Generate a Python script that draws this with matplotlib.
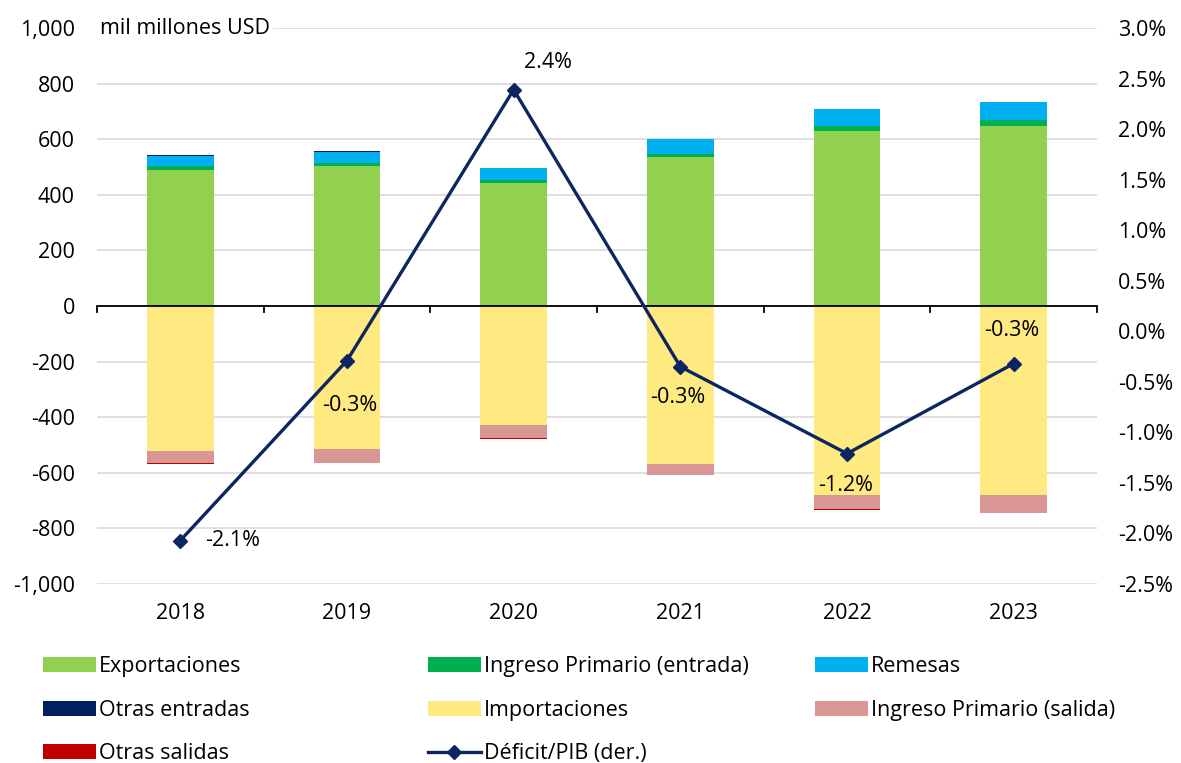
import matplotlib.pyplot as plt
import numpy as np
from matplotlib.lines import Line2D
from matplotlib.patches import Patch
from matplotlib.ticker import FuncFormatter

plt.rcParams['font.family'] = ['Open Sans', 'DejaVu Sans']
fs = 15.5
plt.rcParams['font.size'] = fs

years = ['2018', '2019', '2020', '2021', '2022', '2023']

exportaciones = [490, 504, 444, 536, 628, 648]
ingreso_ent = [14, 12, 9, 9, 20, 21]
remesas = [37, 39, 42, 55, 60, 64]
otras_ent = [1.5, 1.5, 1.5, 1.5, 1.5, 1.5]

importaciones = [-522, -514, -429, -567, -679, -679]
ingreso_sal = [-44, -50, -47, -41, -53, -64]
otras_sal = [-1.5, -1.5, -1, -1.5, -1.5, -1.5]

deficit = [-2.07, -0.29, 2.39, -0.35, -1.21, -0.32]
deficit_labels = ['-2.1%', '-0.3%', '2.4%', '-0.3%', '-1.2%', '-0.3%']

c_exp = '#92d050'
c_ing_ent = '#00b050'
c_rem = '#00b0f0'
c_otr_ent = '#002060'
c_imp = '#ffe981'
c_ing_sal = '#da9694'
c_otr_sal = '#c00000'
c_line = '#0d2560'

fig = plt.figure(figsize=(11.81, 7.63), dpi=100)
ax = fig.add_axes([97 / 1181, 1 - 584 / 763, 1000 / 1181, 556 / 763])

x = np.arange(len(years))
w = 0.4

# positive stack
bottom = np.zeros(len(years))
for vals, col in [(exportaciones, c_exp), (ingreso_ent, c_ing_ent),
                  (remesas, c_rem), (otras_ent, c_otr_ent)]:
    ax.bar(x, vals, w, bottom=bottom, color=col, zorder=2)
    bottom += np.array(vals)

# negative stack
bottom = np.zeros(len(years))
for vals, col in [(importaciones, c_imp), (ingreso_sal, c_ing_sal),
                  (otras_sal, c_otr_sal)]:
    ax.bar(x, vals, w, bottom=bottom, color=col, zorder=2)
    bottom += np.array(vals)

ax.set_xlim(-0.5, len(years) - 0.5)
ax.set_ylim(-1000, 1000)
ax.set_yticks(range(-1000, 1001, 200))
ax.yaxis.set_major_formatter(FuncFormatter(lambda v, p: f'{int(v):,}'))
ax.grid(axis='y', color='#d9d9d9', linewidth=1.2, zorder=0)
for s in ax.spines.values():
    s.set_visible(False)
ax.tick_params(axis='y', length=0, pad=16, labelsize=fs)
ax.tick_params(axis='x', length=0, pad=14, labelsize=fs)
ax.set_xticks(x)
ax.set_xticklabels(years)

# zero line with category separators
ax.axhline(0, color='black', linewidth=1.3, zorder=3)
for b in np.arange(-0.5, len(years), 1.0):
    ax.plot([b, b], [0, -22], color='black', linewidth=1.3, zorder=3,
            clip_on=False)

ax.text(0.003, 1.0, 'mil millones USD', transform=ax.transAxes,
        ha='left', va='center', fontsize=fs, zorder=4,
        bbox=dict(fc='white', ec='none', pad=2))

ax2 = ax.twinx()
ax2.set_ylim(-2.5, 3.0)
ax2.set_yticks(np.arange(-2.5, 3.01, 0.5))
ax2.yaxis.set_major_formatter(FuncFormatter(lambda v, p: f'{v:.1f}%'))
ax2.tick_params(axis='y', length=0, pad=15, labelsize=fs)
for s in ax2.spines.values():
    s.set_visible(False)

ax2.plot(x, deficit, color=c_line, linewidth=2.4, marker='D', markersize=7,
         zorder=5)

offsets = [(25, 0), (-25, -45), (10, 27), (-30, -31), (-29, -32), (-30, 33)]
for xi, yi, lab, off in zip(x, deficit, deficit_labels, offsets):
    ax2.annotate(lab, (xi, yi), xytext=off, textcoords='offset pixels',
                 ha='left', va='center', fontsize=fs)

# legend in three columns
def patch(c):
    return Patch(facecolor=c, edgecolor='none')

cols = [
    ([patch(c_exp), patch(c_otr_ent), patch(c_otr_sal)],
     ['Exportaciones', 'Otras entradas', 'Otras salidas'], 43),
    ([patch(c_ing_ent), patch(c_imp),
      Line2D([], [], color=c_line, linewidth=2.4, marker='D', markersize=7)],
     ['Ingreso Primario (entrada)', 'Importaciones', 'Déficit/PIB (der.)'], 428),
    ([patch(c_rem), patch(c_ing_sal)],
     ['Remesas', 'Ingreso Primario (salida)'], 815),
]
for handles, labels, xpix in cols:
    fig.legend(handles, labels, loc='upper left',
               bbox_to_anchor=(xpix / 1181, 1 - 656 / 763),
               frameon=False, fontsize=fs, handlelength=2.45,
               handleheight=0.7, handletextpad=0.15, labelspacing=1.05,
               borderpad=0, borderaxespad=0)

fig.savefig('out.png', dpi=100)
